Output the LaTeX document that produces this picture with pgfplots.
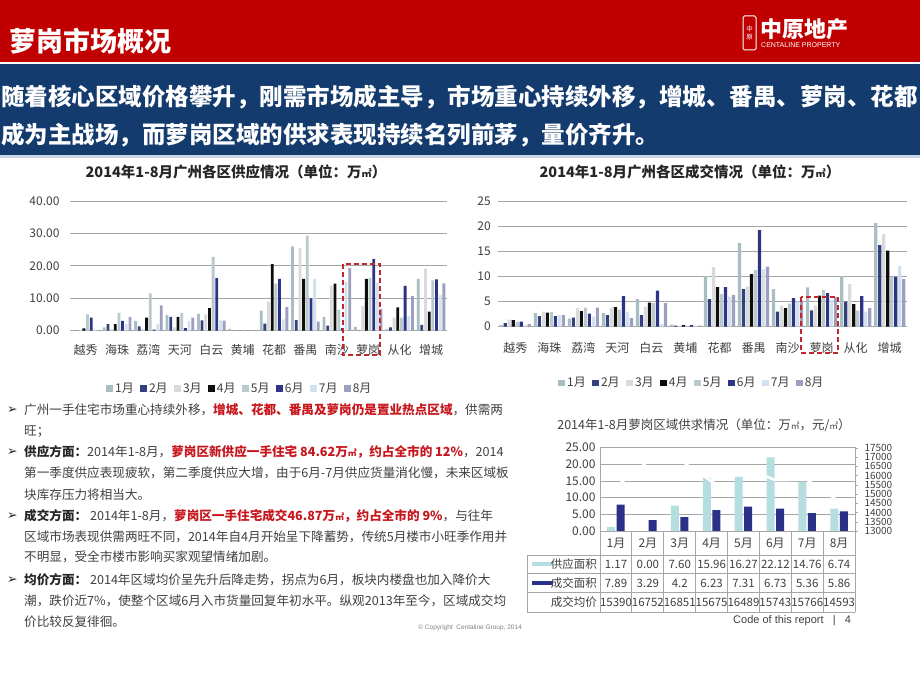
\documentclass[border=0pt]{standalone}
\usepackage{pgfplots}
\usepackage{pgfplotstable}
\pgfplotsset{compat=1.18}
\usepackage{graphicx}
\usepackage{fontspec}
\setmainfont{Noto Sans CJK SC}
\newfontfamily\dejavu{DejaVu Sans}
\newfontfamily\arial{Liberation Sans}

\definecolor{hdrred}{HTML}{C00000}
\definecolor{hdrblue}{HTML}{143B6E}
\definecolor{lineblue}{HTML}{C9D7E6}
\definecolor{txt}{HTML}{404040}
\definecolor{darktxt}{HTML}{262626}
\definecolor{hl}{HTML}{C8161D}
\definecolor{gridc}{HTML}{A6A6A6}
\definecolor{cA}{HTML}{A7BEC2}
\definecolor{cB}{HTML}{343F7E}
\definecolor{cC}{HTML}{DADADA}
\definecolor{cD}{HTML}{0D0D0D}
\definecolor{cE}{HTML}{B9C9CD}
\definecolor{cF}{HTML}{2C3486}
\definecolor{cG}{HTML}{D3E0EE}
\definecolor{cH}{HTML}{9D9FBE}
\definecolor{supc}{HTML}{B5DEE0}
\definecolor{dealc}{HTML}{2B3089}
\definecolor{boxred}{HTML}{C0282E}

\newcommand{\sqm}{\scalebox{0.7}{㎡}}

% supply by district (10k m2), months 1-8
\pgfplotstableread{
x m1 m2 m3 m4 m5 m6 m7 m8
0 0.0 0.0 0.2 0.7 5.0 4.0 0.3 0.0
1 1.0 2.0 0.5 2.0 5.5 3.0 2.0 4.3
2 3.0 1.3 0.5 4.0 11.5 0.3 2.0 7.8
3 4.8 4.3 1.0 4.3 5.5 0.8 3.0 4.0
4 5.2 3.2 5.0 7.0 22.8 16.2 3.2 3.1
5 0.6 0.0 0.0 0.0 0.0 0.0 0.0 0.0
6 6.2 2.2 9.0 20.5 14.5 16.0 3.5 7.3
7 26.0 3.3 25.5 16.0 29.3 10.0 16.0 2.8
8 4.2 1.6 13.8 14.5 6.5 0.8 15.0 19.3
9 1.17 0.00 7.60 15.96 16.27 22.12 14.76 6.74
10 0.5 1.0 4.0 7.2 4.0 13.8 4.5 10.7
11 16.0 1.8 19.1 5.9 15.5 15.8 11.0 14.6
}\supply

% transactions by district (10k m2), months 1-8
\pgfplotstableread{
x m1 m2 m3 m4 m5 m6 m7 m8
0 0.3 0.7 1.4 1.3 1.0 1.0 0.3 0.5
1 2.7 2.1 3.0 2.8 2.9 2.1 2.3 2.3
2 1.6 1.8 3.7 3.1 3.8 2.6 2.0 3.8
3 2.7 2.3 3.8 3.9 3.4 6.1 3.0 1.7
4 5.5 2.3 4.0 4.8 4.7 7.2 0.5 4.7
5 0.4 0.2 0.2 0.3 0.1 0.3 0.2 0.2
6 10.1 5.5 11.9 7.9 6.5 7.9 6.0 6.3
7 16.7 7.5 8.0 10.5 11.3 19.3 11.5 12.0
8 7.5 3.0 4.2 3.7 4.6 5.7 5.0 5.2
9 7.89 3.29 4.2 6.23 7.31 6.73 5.36 5.86
10 10.1 5.0 8.5 4.5 3.2 6.1 3.0 3.7
11 20.7 16.3 18.5 15.2 10.0 9.9 12.1 9.5
}\deal

% Luogang monthly supply, transactions, average price
\pgfplotstableread{
x sup deal price
0 1.17 7.89 15390
1 0.00 3.29 16752
2 7.60 4.20 16851
3 15.96 6.23 15675
4 16.27 7.31 16489
5 22.12 6.73 15743
6 14.76 5.36 15766
7 6.74 5.86 14593
}\luogang

\pgfplotsset{
  sq/.style={fill=#1, draw=none, legend image code/.code={\fill[#1] (0pt,-3.4pt) rectangle (6.8pt,3.4pt);}},
  gzbars/.style={
    scale only axis, xmin=-0.5, xmax=11.5, ymin=0,
    xtick={0,...,11},
    xticklabels={越秀,海珠,荔湾,天河,白云,黄埔,花都,番禺,南沙,萝岗,从化,增城},
    major tick length=0pt,
    ymajorgrids, grid style={draw=gridc, line width=0.9pt},
    axis line style={draw=none},
    tick label style={text=txt, font=\fontsize{12}{12}\selectfont},
    /pgf/number format/assume math mode=true,
    legend columns=8,
    legend style={draw=none, fill=none, font=\fontsize{12}{12}\selectfont, text=txt, inner sep=0pt,
      /tikz/every even column/.append style={column sep=4.5pt}},
    clip=false,
  },
}

\tikzset{bl/.style={anchor=west, inner sep=0pt, text height=10.5pt, text depth=2pt, text=txt, font=\fontsize{12.6}{13}\selectfont},
  arr/.style={anchor=west, inner sep=0pt, text=darktxt, font=\dejavu\fontsize{12.5}{12.5}\selectfont}}
\newcommand{\hlt}[1]{{\bfseries\color{hl}#1}}
\newcommand{\bhd}[1]{{\bfseries\color{darktxt}#1}}

\begin{document}
\begin{tikzpicture}
\useasboundingbox (0pt,0pt) rectangle (920pt,-690pt);
\fill[white] (0pt,0pt) rectangle (920pt,-690pt);
\fill[hdrred] (0pt,0pt) rectangle (920pt,-62pt);
\fill[hdrblue] (0pt,-64pt) rectangle (920pt,-155pt);
\fill[lineblue] (0pt,-155pt) rectangle (920pt,-158pt);

\node[anchor=west, inner sep=0pt, text=white, font=\fontsize{27}{27}\selectfont\bfseries] at (9pt,-41pt) {萝岗市场概况};
% logo
\draw[white, line width=1pt, rounded corners=1.5pt] (743pt,-16pt) rectangle (756pt,-50pt);
\node[text=white, font=\fontsize{6.5}{8}\selectfont, inner sep=0pt, align=center] at (749.5pt,-33pt) {中\\原};
\node[anchor=west, inner sep=0pt, text=white, font=\fontsize{22}{22}\selectfont\bfseries] at (760pt,-29pt) {中原地产};
\node[anchor=west, inner sep=0pt, text=white, font=\arial\fontsize{7}{7}\selectfont] at (761pt,-45pt) {CENTALINE PROPERTY};

\node[anchor=west, inner sep=0pt, text=white, font=\fontsize{23.5}{24}\selectfont\bfseries] at (1pt,-97pt) {随着核心区域价格攀升，刚需市场成主导，市场重心持续外移，增城、番禺、萝岗、花都};
\node[anchor=west, inner sep=0pt, text=white, font=\fontsize{23.5}{24}\selectfont\bfseries] at (1pt,-135pt) {成为主战场，而萝岗区域的供求表现持续名列前茅，量价齐升。};

% chart titles
\node[text=darktxt, font=\fontsize{14.5}{15}\selectfont\bfseries, inner sep=0pt] at (236pt,-172pt) {2014年1-8月广州各区供应情况（单位：万\sqm）};
\node[text=darktxt, font=\fontsize{14.5}{15}\selectfont\bfseries, inner sep=0pt] at (690pt,-172pt) {2014年1-8月广州各区成交情况（单位：万\sqm）};

% supply chart
\begin{axis}[gzbars,
  at={(70pt,-330.7pt)}, anchor=south west, width=376.7pt, height=129.7pt,
  ymax=40, ytick={0,10,20,30,40},
  ybar=0.87pt, bar width=2.8pt,
  yticklabel style={/pgf/number format/.cd, fixed, fixed zerofill, precision=2, /tikz/.cd, xshift=-7pt},
  xticklabel style={yshift=-10pt},
  legend style={at={(0.451,-0.445)}, anchor=center},
]
\addplot[sq=cA] table[x=x, y=m1] {\supply}; \addlegendentry{1月}
\addplot[sq=cB] table[x=x, y=m2] {\supply}; \addlegendentry{2月}
\addplot[sq=cC] table[x=x, y=m3] {\supply}; \addlegendentry{3月}
\addplot[sq=cD] table[x=x, y=m4] {\supply}; \addlegendentry{4月}
\addplot[sq=cE] table[x=x, y=m5] {\supply}; \addlegendentry{5月}
\addplot[sq=cF] table[x=x, y=m6] {\supply}; \addlegendentry{6月}
\addplot[sq=cG] table[x=x, y=m7] {\supply}; \addlegendentry{7月}
\addplot[sq=cH] table[x=x, y=m8] {\supply}; \addlegendentry{8月}
\end{axis}

% transaction chart
\begin{axis}[gzbars,
  at={(498.3pt,-326.7pt)}, anchor=south west, width=408.4pt, height=125pt,
  ymax=25, ytick={0,5,10,15,20,25},
  ybar=0.8pt, bar width=3.2pt,
  yticklabel style={xshift=-4pt},
  xticklabel style={yshift=-12.5pt},
  legend style={at={(0.474,-0.45)}, anchor=center},
]
\addplot[sq=cA] table[x=x, y=m1] {\deal}; \addlegendentry{1月}
\addplot[sq=cB] table[x=x, y=m2] {\deal}; \addlegendentry{2月}
\addplot[sq=cC] table[x=x, y=m3] {\deal}; \addlegendentry{3月}
\addplot[sq=cD] table[x=x, y=m4] {\deal}; \addlegendentry{4月}
\addplot[sq=cE] table[x=x, y=m5] {\deal}; \addlegendentry{5月}
\addplot[sq=cF] table[x=x, y=m6] {\deal}; \addlegendentry{6月}
\addplot[sq=cG] table[x=x, y=m7] {\deal}; \addlegendentry{7月}
\addplot[sq=cH] table[x=x, y=m8] {\deal}; \addlegendentry{8月}
\end{axis}

% red dashed highlight boxes
\draw[boxred, line width=2.2pt, dash pattern=on 5pt off 3pt] (343pt,-264pt) rectangle (380pt,-355pt);
\draw[boxred, line width=2.2pt, dash pattern=on 5pt off 3pt] (800.7pt,-297pt) rectangle (838.3pt,-352.7pt);

% bullet text
\node[arr] at (7pt,-410pt) {➢};
\node[bl] at (24pt,-410pt) {广州一手住宅市场重心持续外移，\hlt{增城、花都、番禺及萝岗仍是置业热点区域}，供需两};
\node[bl] at (24pt,-431pt) {旺；};
\node[arr] at (7pt,-452pt) {➢};
\node[bl] at (24pt,-452pt) {\bhd{供应方面：}2014年1-8月，\hlt{萝岗区新供应一手住宅 84.62万\sqm，约占全市的 12\%}，2014};
\node[bl] at (24pt,-473pt) {第一季度供应表现疲软，第二季度供应大增，由于6月-7月供应货量消化慢，未来区域板};
\node[bl] at (24pt,-495pt) {块库存压力将相当大。};
\node[arr] at (7pt,-516pt) {➢};
\node[bl] at (24pt,-516pt) {\bhd{成交方面：} 2014年1-8月，\hlt{萝岗区一手住宅成交46.87万\sqm，约占全市的 9\%}，与往年};
\node[bl] at (24pt,-537pt) {区域市场表现供需两旺不同，2014年自4月开始呈下降蓄势，传统5月楼市小旺季作用并};
\node[bl] at (24pt,-557pt) {不明显，受全市楼市影响买家观望情绪加剧。};
\node[arr] at (7pt,-580pt) {➢};
\node[bl] at (24pt,-580pt) {\bhd{均价方面：} 2014年区域均价呈先升后降走势，拐点为6月，板块内楼盘也加入降价大};
\node[bl] at (24pt,-601pt) {潮，跌价近7\%，使整个区域6月入市货量回复年初水平。纵观2013年至今，区域成交均};
\node[bl] at (24pt,-622pt) {价比较反复徘徊。};

\node[anchor=east, inner sep=0pt, text=gray, font=\arial\fontsize{6.5}{7}\selectfont] at (522pt,-628pt) {\textcopyright\ Copyright\ \ Centaline Group, 2014};

% Luogang chart title
\node[text=txt, font=\fontsize{12.5}{13}\selectfont, inner sep=0pt] at (704pt,-425pt) {2014年1-8月萝岗区域供求情况（单位：万\sqm，元/\sqm）};

\begin{axis}[
  at={(600pt,-531pt)}, anchor=south west, scale only axis, width=255pt, height=83.3pt,
  xmin=-0.5, xmax=7.5, ymin=0, ymax=25, ytick={0,5,10,15,20,25},
  ybar=1.5pt, bar width=8pt,
  xtick=\empty,
  ymajorgrids, grid style={draw=gridc, line width=0.8pt},
  axis line style={draw=gridc, line width=0.8pt},
  major tick length=0pt,
  /pgf/number format/assume math mode=true,
  yticklabel style={/pgf/number format/.cd, fixed, fixed zerofill, precision=2, /tikz/.cd, text=txt, font=\fontsize{12}{12}\selectfont, xshift=-1pt},
]
\addplot[fill=supc, draw=none] table[x=x, y=sup] {\luogang};
\addplot[fill=dealc, draw=none] table[x=x, y=deal] {\luogang};
\end{axis}
\begin{axis}[
  at={(600pt,-531pt)}, anchor=south west, scale only axis, width=255pt, height=83.3pt,
  xmin=-0.5, xmax=7.5, ymin=13000, ymax=17500, ytick={13000,13500,...,17500},
  axis x line=none, axis y line*=right,
  axis line style={draw=gridc, line width=0.8pt},
  tick style={draw=gridc}, tick align=outside, major tick length=3pt,
  scaled y ticks=false,
  /pgf/number format/assume math mode=true,
  yticklabel style={/pgf/number format/.cd, fixed, 1000 sep={}, /tikz/.cd, text=txt, font=\fontsize{10}{10}\selectfont, xshift=3pt},
]
\addplot[white, line width=2.4pt, mark=none] table[x=x, y=price] {\luogang};
\end{axis}

% data table under the Luogang chart
\begin{scope}[gridc, line width=0.8pt]
\draw (600pt,-531pt) -- (855pt,-531pt);
\draw (527pt,-555pt) -- (855pt,-555pt);
\draw (527pt,-573.5pt) -- (855pt,-573.5pt);
\draw (527pt,-592.5pt) -- (855pt,-592.5pt);
\draw (527pt,-612pt) -- (855pt,-612pt);
\draw (527pt,-555pt) -- (527pt,-612pt);
\foreach \k in {0,...,8} { \draw ({600pt+31.875pt*\k},-531pt) -- ({600pt+31.875pt*\k},-612pt); }
\end{scope}
\foreach \m [count=\i from 0] in {1月,2月,3月,4月,5月,6月,7月,8月} {
  \node[text=txt, font=\fontsize{12}{12}\selectfont, inner sep=0pt] at ({616pt+31.875pt*\i},-543pt) {\m};
}
\foreach \v [count=\i from 0] in {1.17,0.00,7.60,15.96,16.27,22.12,14.76,6.74} {
  \node[text=txt, font=\fontsize{11.5}{12}\selectfont, inner sep=0pt] at ({616pt+31.875pt*\i},-564pt) {\v};
}
\foreach \v [count=\i from 0] in {7.89,3.29,4.2,6.23,7.31,6.73,5.36,5.86} {
  \node[text=txt, font=\fontsize{11.5}{12}\selectfont, inner sep=0pt] at ({616pt+31.875pt*\i},-583pt) {\v};
}
\foreach \v [count=\i from 0] in {15390,16752,16851,15675,16489,15743,15766,14593} {
  \node[text=txt, font=\fontsize{11.5}{12}\selectfont, inner sep=0pt] at ({616pt+31.875pt*\i},-602pt) {\v};
}
\draw[supc, line width=4.5pt] (532pt,-564pt) -- (553pt,-564pt);
\draw[dealc, line width=4.5pt] (532pt,-583pt) -- (553pt,-583pt);
\node[anchor=east, text=txt, font=\fontsize{11.5}{12}\selectfont, inner sep=0pt] at (597pt,-564pt) {供应面积};
\node[anchor=east, text=txt, font=\fontsize{11.5}{12}\selectfont, inner sep=0pt] at (597pt,-583pt) {成交面积};
\node[anchor=east, text=txt, font=\fontsize{11.5}{12}\selectfont, inner sep=0pt] at (597pt,-602pt) {成交均价};

\node[anchor=west, text=txt, font=\arial\fontsize{11}{11}\selectfont, inner sep=0pt] at (733pt,-621pt) {Code of this report\ \ \ |\ \ \ 4};
\end{tikzpicture}
\end{document}
